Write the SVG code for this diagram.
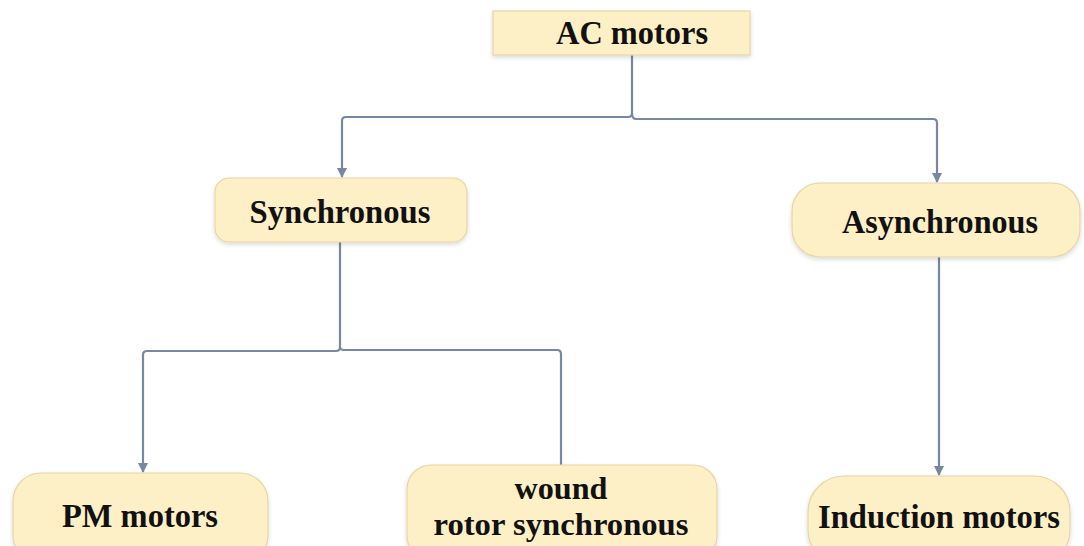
<svg xmlns="http://www.w3.org/2000/svg" width="1084" height="546" viewBox="0 0 1084 546">
<style>
.box{fill:#fdefc6;stroke:#e6d6a6;stroke-width:1.2}
.lbl{font-family:"Liberation Serif","Times New Roman",serif;font-weight:bold;font-size:34px;fill:#111;text-anchor:middle}
.sm{font-size:32px}
.con{fill:none;stroke:#7888a0;stroke-width:2.2;stroke-linejoin:round}
</style>
<defs>
<marker id="arr" markerWidth="10" markerHeight="10" refX="9" refY="5" orient="auto" markerUnits="userSpaceOnUse">
<path d="M0,0 L10,5 L0,10 Z" fill="#7888a0"/>
</marker>
<filter id="sh" x="-10%" y="-10%" width="120%" height="130%">
<feDropShadow dx="0" dy="2" stdDeviation="2" flood-color="#000" flood-opacity="0.15"/>
</filter>
</defs>
<rect width="1084" height="546" fill="#fff"/>
<g id="connectors">
<path class="con" d="M632,55 V113 Q632,117 628,117 H346 Q342,117 342,121 V177" marker-end="url(#arr)"/>
<path class="con" d="M632,113 Q632,119 636,119 H933 Q937,119 937,123 V182" marker-end="url(#arr)"/>
<path class="con" d="M340,242 V347 Q340,351 336,351 H147 Q143,351 143,355 V472" marker-end="url(#arr)"/>
<path class="con" d="M340,347 Q340,350 344,350 H557 Q561,350 561,354 V465"/>
<path class="con" d="M939,257 V475" marker-end="url(#arr)"/>
</g>
<g id="ac-motors">
<rect class="box" x="493" y="11" width="257" height="44" filter="url(#sh)"/>
<text class="lbl" x="632" y="44" textLength="152" lengthAdjust="spacingAndGlyphs">AC motors</text>
</g>
<g id="synchronous">
<rect class="box" x="215" y="178" width="252" height="64" rx="14" filter="url(#sh)"/>
<text class="lbl" x="340" y="223" textLength="181" lengthAdjust="spacingAndGlyphs">Synchronous</text>
</g>
<g id="asynchronous">
<rect class="box" x="792" y="183" width="288" height="74" rx="28" filter="url(#sh)"/>
<text class="lbl" x="940" y="233" textLength="196" lengthAdjust="spacingAndGlyphs">Asynchronous</text>
</g>
<g id="pm-motors">
<rect class="box" x="13" y="473" width="255" height="90" rx="28" filter="url(#sh)"/>
<text class="lbl" x="140" y="527" textLength="156" lengthAdjust="spacingAndGlyphs">PM motors</text>
</g>
<g id="wound-rotor">
<rect class="box" x="407" y="465" width="310" height="95" rx="24" filter="url(#sh)"/>
<text class="lbl sm" x="561" y="499" textLength="93" lengthAdjust="spacingAndGlyphs">wound</text>
<text class="lbl sm" x="561" y="535" textLength="255" lengthAdjust="spacingAndGlyphs">rotor synchronous</text>
</g>
<g id="induction-motors">
<rect class="box" x="808" y="476" width="262" height="90" rx="36" filter="url(#sh)"/>
<text class="lbl" x="939" y="528" textLength="242" lengthAdjust="spacingAndGlyphs">Induction motors</text>
</g>
</svg>
